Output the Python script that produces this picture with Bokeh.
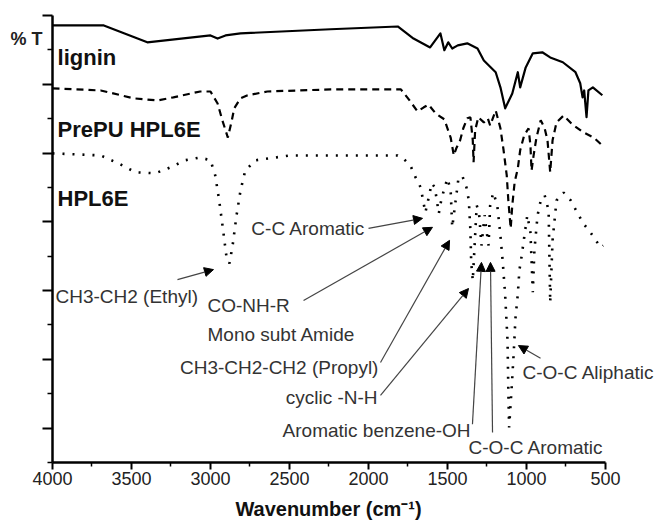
from bokeh.plotting import figure
from bokeh.models import Range1d, FixedTicker, Label, Arrow, NormalHead, ColumnDataSource
from bokeh.embed import file_html
from bokeh.resources import INLINE

# ---------------- data ----------------
lignin_wn = [4000, 3675, 3400, 3000, 2955, 2905, 2810, 2240, 1815, 1715,
             1610, 1545, 1520, 1495, 1470, 1435, 1375, 1310, 1270, 1195,
             1165, 1135, 1090, 1055, 1040, 1005, 960, 900, 850, 770,
             690, 660, 645, 635, 620, 608, 580, 520]
lignin_t = [12.71, 12.71, 12.22, 12.42, 12.33, 12.42, 12.48, 12.60, 12.68, 12.33,
            12.07, 12.48, 11.99, 12.22, 12.04, 12.13, 12.19, 12.04, 11.69, 11.35,
            10.91, 10.30, 10.73, 11.35, 10.91, 11.49, 11.90, 11.93, 11.78, 11.64,
            11.35, 11.03, 10.62, 10.82, 10.04, 10.82, 10.91, 10.68]

prepu_wn = [4000, 3695, 3485, 3335, 3235, 3065, 3000, 2955, 2925, 2890,
            2865, 2850, 2810, 2765, 2640, 2240, 1795, 1740, 1690, 1650,
            1620, 1575, 1520, 1480, 1460, 1445, 1420, 1400, 1375, 1355,
            1340, 1335, 1325, 1305, 1270, 1245, 1230, 1195, 1165, 1145,
            1125, 1115, 1100, 1090, 1075, 1055, 1040, 1015, 987, 975,
            968, 955, 937, 910, 885, 867, 850, 835, 810, 765,
            710, 640, 575, 520]
prepu_t = [10.88, 10.82, 10.59, 10.53, 10.62, 10.79, 10.79, 10.44, 9.95, 9.45,
           9.95, 10.30, 10.59, 10.68, 10.79, 10.85, 10.85, 10.53, 10.21, 10.33,
           10.41, 10.15, 9.98, 9.45, 8.93, 9.13, 9.37, 9.72, 10.01, 10.04,
           9.37, 8.73, 9.66, 10.04, 9.89, 10.01, 9.80, 10.24, 9.72, 9.08,
           8.35, 7.62, 6.81, 7.48, 8.15, 8.55, 9.08, 9.51, 9.72, 9.22,
           8.49, 8.93, 9.45, 9.95, 9.72, 9.37, 8.44, 9.37, 9.89, 10.09,
           9.83, 9.60, 9.45, 9.22]

hpl_wn = [4000, 3695, 3570, 3475, 3350, 3255, 3160, 3065, 3000, 2970,
          2945, 2920, 2900, 2880, 2860, 2835, 2810, 2780, 2715, 2495,
          2240, 1815, 1780, 1735, 1705, 1670, 1640, 1620, 1600, 1580,
          1555, 1540, 1520, 1500, 1480, 1470, 1450, 1430, 1405, 1380,
          1365, 1355, 1350, 1340, 1330, 1315, 1300, 1285, 1265, 1255,
          1240, 1230, 1210, 1185, 1165, 1150, 1135, 1120, 1115, 1110,
          1095, 1080, 1070, 1055, 1045, 1030, 1020, 995, 975, 960,
          950, 930, 910, 885, 860, 850, 835, 810, 765, 720,
          675, 640, 595, 530, 515]
hpl_t = [8.99, 8.93, 8.67, 8.44, 8.41, 8.58, 8.79, 8.87, 8.79, 8.35,
         7.62, 6.75, 6.02, 5.79, 6.31, 7.19, 7.91, 8.49, 8.79, 8.93,
         8.93, 8.93, 8.84, 8.64, 8.32, 8.00, 7.27, 7.68, 8.12, 8.00,
         7.24, 7.62, 7.97, 8.26, 7.91, 6.84, 7.56, 8.29, 8.32, 8.00,
         7.62, 6.75, 5.82, 5.29, 6.17, 7.48, 7.24, 6.31, 7.19, 6.81,
         6.31, 7.48, 7.85, 7.48, 6.60, 5.82, 4.86, 3.55, 2.09, 1.02,
         2.09, 3.26, 4.19, 4.89, 5.59, 6.02, 6.37, 7.19, 6.69, 4.95,
         6.17, 7.19, 7.62, 7.77, 7.33, 4.65, 6.46, 7.62, 7.85, 7.62,
         7.24, 6.95, 6.69, 6.25, 6.31]

x_ticks = [4000, 3500, 3000, 2500, 2000, 1500, 1000, 500]
x_minor = [3750, 3250, 2750, 2250, 1750, 1250, 750]
y_ticks = [1, 3, 5, 7, 9, 11, 13]
y_minor = [0, 2, 4, 6, 8, 10, 12]

series_names = ["lignin", "PrePU HPL6E", "HPL6E"]
series_label_y = [11.78, 9.69, 7.68]

ann_text = ["C-C Aromatic", "CH3-CH2 (Ethyl)", "CO-NH-R", "Mono subt Amide",
            "CH3-CH2-CH2 (Propyl)", "cyclic -N-H", "Aromatic benzene-OH",
            "C-O-C Aromatic", "C-O-C Aliphatic"]
ann_x = [2020, 3981, 3019, 3019, 1937, 1943, 1354, 1367, 1025]
ann_y = [6.81, 4.83, 4.57, 3.72, 2.76, 1.89, 0.93, 0.44, 2.62]
ann_align = ["right", "left", "left", "left", "right", "right", "right", "left", "left"]

arr_x0 = [2000, 3209, 2411, 1924, 1924, 1342, 1215, 911]
arr_y0 = [6.81, 5.32, 4.71, 2.91, 1.95, 1.11, 0.87, 3.03]
arr_x1 = [1658, 2981, 1595, 1487, 1367, 1285, 1228, 1051]
arr_y1 = [7.10, 5.61, 6.84, 6.46, 5.06, 5.82, 5.82, 3.40]

FONT = "Liberation Sans"

# The frame fills the whole canvas; the axes sit at fixed data locations
p = figure(width=659, height=521, x_range=Range1d(4329.1, 158.2), y_range=Range1d(-1.716, 13.436),
           output_backend="svg", toolbar_location=None,
           min_border_left=0, min_border_right=0, min_border_top=0, min_border_bottom=0)
p.outline_line_color = None
p.xgrid.visible = False
p.ygrid.visible = False
p.background_fill_color = "white"

# x axis
xa = p.xaxis[0]
xa.fixed_location = 0
xa.bounds = (500, 4000)
xa.ticker = FixedTicker(ticks=x_ticks, minor_ticks=x_minor)
xa.axis_line_width = 2.5
xa.axis_line_color = "black"
xa.major_tick_out = 7
xa.major_tick_in = 0
xa.minor_tick_out = 4
xa.minor_tick_in = 0
xa.major_tick_line_width = 2
xa.minor_tick_line_width = 1.5
xa.major_label_text_font = FONT
xa.major_label_text_font_size = "18px"
xa.major_label_text_color = "#222222"
xa.major_label_standoff = 3

# y axis
ya = p.yaxis[0]
ya.fixed_location = 4000
ya.bounds = (0, 13)
ya.ticker = FixedTicker(ticks=y_ticks, minor_ticks=y_minor)
ya.axis_line_width = 2.5
ya.axis_line_color = "black"
ya.major_tick_out = 10
ya.major_tick_in = 0
ya.minor_tick_out = 5
ya.minor_tick_in = 0
ya.major_tick_line_width = 2
ya.minor_tick_line_width = 1.5
ya.major_label_text_color = None

# spectra
src_l = ColumnDataSource(dict(wn=lignin_wn, t=lignin_t))
src_p = ColumnDataSource(dict(wn=prepu_wn, t=prepu_t))
src_h = ColumnDataSource(dict(wn=hpl_wn, t=hpl_t))
p.line("wn", "t", source=src_l, line_color="black", line_width=2.2, line_join="round")
p.line("wn", "t", source=src_p, line_color="black", line_width=2.2, line_dash="7 5")
p.line("wn", "t", source=src_h, line_color="black", line_width=2.6, line_dash="2 8")

# series labels
for name, yy in zip(series_names, series_label_y):
    p.add_layout(Label(x=3968, y=yy, text=name, text_font=FONT, text_font_size="22px",
                       text_font_style="bold", text_color="#111111",
                       text_align="left", text_baseline="alphabetic"))

# annotations
for t, x, y, al in zip(ann_text, ann_x, ann_y, ann_align):
    p.add_layout(Label(x=x, y=y, text=t, text_font=FONT, text_font_size="19px",
                       text_color="#333333", text_align=al, text_baseline="middle"))

for x0, y0, x1, y1 in zip(arr_x0, arr_y0, arr_x1, arr_y1):
    p.add_layout(Arrow(end=NormalHead(size=9, fill_color="black", line_color="black", line_width=1),
                       x_start=x0, y_start=y0, x_end=x1, y_end=y1,
                       line_color="#444444", line_width=1.2))

# "% T" and axis title
p.add_layout(Label(x=4266, y=12.33, text="% T", text_font=FONT, text_font_size="18px",
                   text_font_style="bold", text_color="#222222",
                   text_align="left", text_baseline="middle"))
p.add_layout(Label(x=2253, y=-1.338, text="Wavenumber (cm\u207b\u00b9)", text_font=FONT,
                   text_font_size="20px", text_font_style="bold", text_color="#111111",
                   text_align="center", text_baseline="middle"))

open("out.html", "w").write(file_html(p, INLINE))
